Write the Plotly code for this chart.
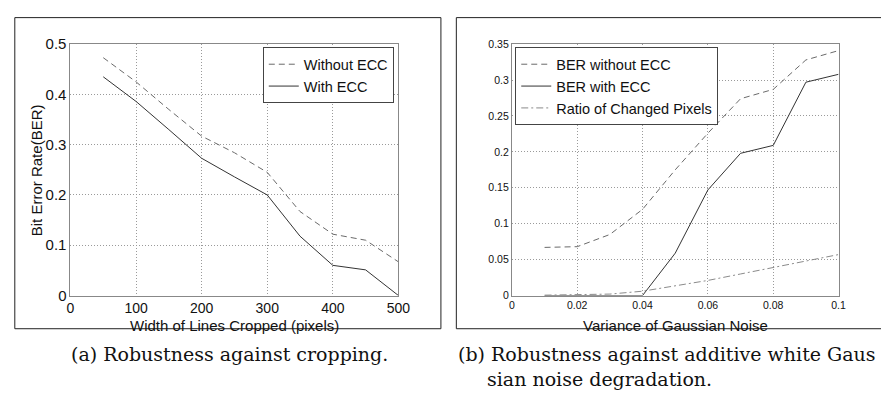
import plotly.graph_objects as go

W, H = 881, 398

# ---- data: panel (a) cropping ----
crop_width = [50, 100, 150, 200, 250, 300, 350, 400, 450, 500]
ber_no_ecc_crop = [0.473, 0.425, 0.370, 0.317, 0.284, 0.245, 0.167, 0.122, 0.110, 0.067]
ber_ecc_crop = [0.435, 0.386, 0.330, 0.273, 0.236, 0.200, 0.118, 0.060, 0.051, 0.000]

# ---- data: panel (b) gaussian noise ----
noise_var = [0.01, 0.02, 0.03, 0.04, 0.05, 0.06, 0.07, 0.08, 0.09, 0.10]
ber_no_ecc_noise = [0.067, 0.068, 0.085, 0.120, 0.175, 0.226, 0.274, 0.287, 0.328, 0.341]
ber_ecc_noise = [0.000, 0.000, 0.000, 0.000, 0.059, 0.147, 0.198, 0.209, 0.297, 0.308]
changed_pixels = [0.0005, 0.001, 0.002, 0.006, 0.013, 0.021, 0.030, 0.039, 0.048, 0.057]

ticks_a_x = [0, 100, 200, 300, 400, 500]
ticks_a_y = [0, 0.1, 0.2, 0.3, 0.4, 0.5]
ticks_b_x = [0, 0.02, 0.04, 0.06, 0.08, 0.1]
ticks_b_y = [0, 0.05, 0.1, 0.15, 0.2, 0.25, 0.3, 0.35]

def px(x):
    return x / W

def py(y):
    return 1 - y / H

fig = go.Figure()

DASH = "6px,4px"
DASHDOT = "7px,3px,2px,3px"

fig.add_trace(go.Scatter(x=crop_width, y=ber_no_ecc_crop, mode="lines", name="Without ECC",
                         line=dict(color="#6a6a6a", width=1, dash=DASH), xaxis="x", yaxis="y", legend="legend"))
fig.add_trace(go.Scatter(x=crop_width, y=ber_ecc_crop, mode="lines", name="With ECC",
                         line=dict(color="#333333", width=1), xaxis="x", yaxis="y", legend="legend"))

fig.add_trace(go.Scatter(x=noise_var, y=ber_no_ecc_noise, mode="lines", name="BER without ECC",
                         line=dict(color="#6a6a6a", width=1, dash=DASH), xaxis="x2", yaxis="y2", legend="legend2"))
fig.add_trace(go.Scatter(x=noise_var, y=ber_ecc_noise, mode="lines", name="BER with ECC",
                         line=dict(color="#333333", width=1), xaxis="x2", yaxis="y2", legend="legend2"))
fig.add_trace(go.Scatter(x=noise_var, y=changed_pixels, mode="lines", name="Ratio of Changed Pixels",
                         line=dict(color="#8a8a8a", width=1, dash=DASHDOT), xaxis="x2", yaxis="y2", legend="legend2"))

SANS = "Liberation Sans, Arial, sans-serif"
SERIF = "DejaVu Serif, serif"

ax_common = dict(showline=True, linecolor="#888888", linewidth=1, mirror=True,
                 showgrid=True, gridcolor="#9a9a9a", gridwidth=1, griddash="1px,2px",
                 zeroline=False, ticks="", tickfont=dict(family=SANS, color="#111111"))

ydom = [py(299.3), py(36.7)]

fig.update_layout(
    width=W, height=H, margin=dict(l=0, r=0, t=0, b=0),
    paper_bgcolor="white", plot_bgcolor="white",
    xaxis=dict(ax_common, domain=[px(67.7), px(401.7)], range=[0, 500], tickvals=ticks_a_x,
               tickfont=dict(family=SANS, size=14, color="#111111"), anchor="y"),
    yaxis=dict(ax_common, domain=ydom, range=[0, 0.5], tickvals=ticks_a_y,
               ticktext=["0", "0.1", "0.2", "0.3", "0.4", "0.5"],
               tickfont=dict(family=SANS, size=15, color="#111111"), anchor="x"),
    xaxis2=dict(ax_common, domain=[px(517.3), px(850)], range=[0, 0.1], tickvals=ticks_b_x,
                ticktext=["0", "0.02", "0.04", "0.06", "0.08", "0.1"],
                tickfont=dict(family=SANS, size=10.5, color="#111111"), anchor="y2"),
    yaxis2=dict(ax_common, domain=ydom, range=[0, 0.35], tickvals=ticks_b_y,
                ticktext=["0", "0.05", "0.1", "0.15", "0.2", "0.25", "0.3", "0.35"],
                tickfont=dict(family=SANS, size=10.5, color="#111111"), anchor="x2"),
    legend=dict(x=px(397), y=py(40), xanchor="right", yanchor="top",
                bgcolor="white", bordercolor="#444444", borderwidth=1,
                font=dict(family=SANS, size=14.5, color="#111111"), tracegroupgap=0),
    legend2=dict(x=px(520.7), y=py(40), xanchor="left", yanchor="top",
                 bgcolor="white", bordercolor="#444444", borderwidth=1,
                 font=dict(family=SANS, size=14.5, color="#111111"), tracegroupgap=0),
    showlegend=True,
)

shapes = [
    dict(type="rect", xref="paper", yref="paper", x0=px(11), x1=px(445), y0=py(334), y1=py(9),
         line=dict(color="#222222", width=1), fillcolor="rgba(0,0,0,0)", layer="below"),
    dict(type="rect", xref="paper", yref="paper", x0=px(460.7), x1=px(905), y0=py(334), y1=py(9),
         line=dict(color="#222222", width=1), fillcolor="rgba(0,0,0,0)", layer="below"),
]
fig.update_layout(shapes=shapes)

annotations = [
    dict(text="Bit Error Rate(BER)", x=px(33), y=py(168), xref="paper", yref="paper",
         textangle=-90, showarrow=False, font=dict(family=SANS, size=15, color="#111111"),
         xanchor="center", yanchor="middle"),
    dict(text="Width of Lines Cropped (pixels)", x=px(234.7), y=py(331), xref="paper", yref="paper",
         showarrow=False, font=dict(family=SANS, size=15, color="#111111"),
         xanchor="center", yanchor="middle"),
    dict(text="Variance of Gaussian Noise", x=px(683.7), y=py(331), xref="paper", yref="paper",
         showarrow=False, font=dict(family=SANS, size=15, color="#111111"),
         xanchor="center", yanchor="middle"),
    dict(text="(a) Robustness against cropping.", x=px(66), y=py(360), xref="paper", yref="paper",
         showarrow=False, font=dict(family=SERIF, size=19, color="#111111"),
         xanchor="left", yanchor="middle"),
    dict(text="(b) Robustness against additive white Gaus", x=px(460), y=py(360),
         xref="paper", yref="paper",
         showarrow=False, font=dict(family=SERIF, size=19, color="#111111"),
         xanchor="left", yanchor="middle"),
    dict(text="sian noise degradation.", x=px(490), y=py(386),
         xref="paper", yref="paper",
         showarrow=False, font=dict(family=SERIF, size=19, color="#111111"),
         xanchor="left", yanchor="middle"),
]
fig.update_layout(annotations=annotations)

fig.write_html("out.html")
